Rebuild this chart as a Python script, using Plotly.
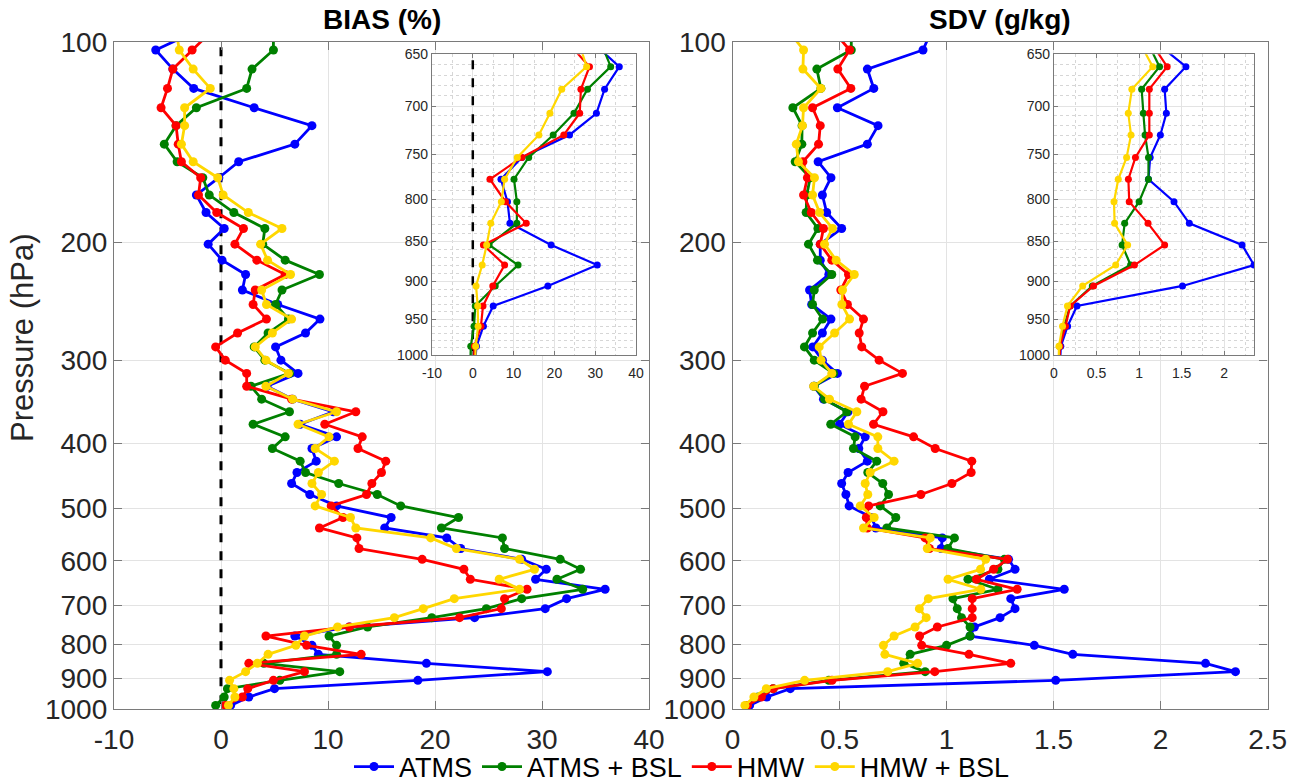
import math
import plotly.graph_objects as go

# ---------------- data ----------------
P = [96.2, 102.9, 109.9, 117.5, 125.6, 133.6, 142.4, 151.3, 159.9, 169.7, 180.3,
     190.5, 201.1, 212.5, 223.3, 235.6, 247.6, 260.4, 273.2, 286.7, 300.1,
     314.1, 328.3, 343.3, 358.6, 374.3, 391.0, 407.0, 425.2, 442.2, 459.3,
     477.0, 496.2, 516.5, 535.4, 554.1, 574.8, 596.6, 617.5, 639.2, 661.6,
     683.3, 707.3, 729.6, 753.5, 777.4, 802.8, 828.1, 854.2, 879.1, 905.8,
     932.2, 959.5, 987.6, 1015.0]

series_names = ["ATMS", "ATMS + BSL", "HMW", "HMW + BSL"]
series_colors = ["#0000FF", "#008000", "#FF0000", "#FFD700"]

bias_atms = [-2.2, -6.1, -4.5, -2.55, 3.1, 8.5, 6.9, 1.65, -0.2, -2.3, -1.4,
             0.3, -1.2, 0.1, 2.3, 2.0, 5.3, 9.25, 7.9, 5.1, 5.6,
             7.2, 4.3, 6.7, 10.5, 7.4, 10.8, 8.5, 8.9, 7.1, 6.6,
             8.3, 10.8, 15.9, 15.3, 21.1, 22.4, 28.1, 30.4, 29.4, 35.9,
             32.3, 30.3, 23.7, 12.0, 6.9, 8.5, 9.1, 19.2, 30.5, 18.4,
             5.0, 2.6, 0.9, 0.5]
bias_atms_bsl = [4.9, 4.9, 2.9, 2.4, -2.3, -4.2, -5.3, -4.1, -1.7, -1.1, 1.2,
                 4.1, 3.9, 6.0, 9.2, 5.7, 5.1, 6.3, 4.4, 3.1, 4.1,
                 6.4, 2.8, 3.8, 6.4, 3.0, 6.0, 4.8, 7.4, 7.9, 11.0,
                 14.6, 16.8, 22.2, 20.6, 26.3, 26.5, 31.7, 33.6, 31.4, 33.8,
                 28.1, 24.8, 19.7, 13.7, 10.1, 10.8, 10.8, 4.0, 11.1, 5.5,
                 0.6, 0.3, -0.5, -0.6]
bias_hmw = [-0.8, -2.7, -4.5, -5.0, -5.6, -4.2, -4.0, -3.7, -1.9, -2.1, -0.4,
            2.1, 1.3, 3.35, 6.0, 3.2, 3.0, 4.25, 1.55, -0.5, 0.4,
            2.4, 2.4, 6.6, 12.6, 9.7, 13.2, 12.8, 15.4, 15.0, 14.1,
            13.6, 10.3, 11.4, 9.2, 12.7, 12.9, 18.8, 22.7, 23.3, 28.6,
            26.5, 26.2, 22.3, 12.0, 4.2, 8.0, 13.1, 2.6, 7.8, 4.9,
            2.5, 2.0, 0.4, 0.3]
bias_hmw_bsl = [-4.2, -3.9, -2.6, -1.0, -3.4, -3.4, -3.7, -2.6, -0.3, 0.2, 2.55,
                5.7, 3.7, 4.35, 6.5, 3.8, 4.25, 6.6, 4.8, 3.2, 4.2,
                6.3, 4.2, 6.7, 10.8, 7.2, 10.1, 8.8, 10.6, 9.1, 8.5,
                9.4, 8.8, 12.1, 12.6, 19.6, 22.0, 27.9, 29.3, 26.0, 27.9,
                21.8, 18.9, 16.2, 10.9, 7.8, 7.0, 4.4, 3.4, 2.3, 0.8,
                1.2, 1.3, 0.7, 0.6]

sdv_atms = [0.93, 0.89, 0.63, 0.66, 0.49, 0.68, 0.63, 0.40, 0.46, 0.42, 0.44,
            0.51, 0.41, 0.41, 0.45, 0.36, 0.37, 0.46, 0.42, 0.375, 0.42,
            0.49, 0.38, 0.425, 0.54, 0.50, 0.62, 0.59, 0.63, 0.54, 0.51,
            0.53, 0.545, 0.65, 0.67, 0.98, 0.975, 1.29, 1.32, 1.20, 1.55,
            1.30, 1.32, 1.25, 1.13, 1.11, 1.41, 1.59, 2.21, 2.35, 1.51,
            0.27, 0.16, 0.08, 0.07]
sdv_atms_bsl = [0.555, 0.555, 0.394, 0.413, 0.282, 0.325, 0.324, 0.293, 0.363, 0.347, 0.344,
                0.399, 0.355, 0.397, 0.464, 0.382, 0.374, 0.421, 0.374, 0.336, 0.382,
                0.472, 0.382, 0.43, 0.534, 0.459, 0.573, 0.565, 0.674, 0.632, 0.702,
                0.729, 0.690, 0.763, 0.721, 1.037, 1.006, 1.27, 1.24, 1.10, 1.24,
                1.03, 1.05, 1.07, 1.11, 1.11, 1.0, 0.83, 0.80, 0.90, 0.45,
                0.19, 0.12, 0.065, 0.06]
sdv_hmw = [0.47, 0.547, 0.492, 0.553, 0.374, 0.410, 0.402, 0.329, 0.350, 0.332, 0.368,
           0.425, 0.410, 0.464, 0.542, 0.506, 0.537, 0.612, 0.592, 0.604, 0.685,
           0.794, 0.617, 0.601, 0.703, 0.659, 0.846, 0.947, 1.118, 1.115, 1.025,
           0.880, 0.636, 0.625, 0.63, 0.900, 0.920, 1.285, 1.22, 1.14, 1.33,
           1.12, 1.12, 1.12, 0.957, 0.874, 0.884, 1.105, 1.30, 0.945, 0.465,
           0.19, 0.135, 0.07, 0.065]
sdv_hmw_bsl = [0.26, 0.332, 0.329, 0.413, 0.332, 0.327, 0.298, 0.308, 0.383, 0.374, 0.407,
               0.467, 0.430, 0.484, 0.569, 0.514, 0.511, 0.547, 0.477, 0.405, 0.414,
               0.464, 0.379, 0.453, 0.581, 0.542, 0.679, 0.679, 0.755, 0.643, 0.620,
               0.632, 0.597, 0.662, 0.612, 0.924, 0.910, 1.183, 1.159, 1.007, 1.16,
               0.915, 0.873, 0.905, 0.853, 0.755, 0.705, 0.712, 0.865, 0.725, 0.337,
               0.158, 0.10, 0.058, 0.055]

bias_series = [bias_atms, bias_atms_bsl, bias_hmw, bias_hmw_bsl]
sdv_series = [sdv_atms, sdv_atms_bsl, sdv_hmw, sdv_hmw_bsl]

main_yticks = [100, 200, 300, 400, 500, 600, 700, 800, 900, 1000]
inset_yticks = [650, 700, 750, 800, 850, 900, 950, 1000]
inset_yminor = [v for v in range(660, 1000, 10) if v % 50 != 0]
bias_xticks = [-10, 0, 10, 20, 30, 40]
bias_xticklabels = ["-10", "0", "10", "20", "30", "40"]
sdv_xticks = [0, 0.5, 1, 1.5, 2, 2.5]
sdv_xticklabels = ["0", "0.5", "1", "1.5", "2", "2.5"]
inset_sdv_xticks = [0, 0.5, 1, 1.5, 2]
inset_sdv_xticklabels = ["0", "0.5", "1", "1.5", "2"]

# ---------------- figure ----------------
# The figure is a little taller than the 783 px window so that the bottom legend
# box fits without Plotly shrinking the plot area; the window crops the extra.
W, H = 1293, 800
def fx(x): return x / W
def fy(y): return 1 - y / H

FONT = "Liberation Sans, Arial, sans-serif"
TXT = "#262626"
AXC = "#7a7a7a"
GRID = "#e3e3e3"
MINOR = "#d6d6d6"
MAIN_TICK = 28
INSET_TICK = 14

fig = go.Figure()

# dashed zero lines
for xa, ya, w in [("x", "y", 3), ("x3", "y3", 2.5)]:
    fig.add_trace(go.Scatter(x=[0, 0], y=[90, 1100], mode="lines",
                             line=dict(color="black", width=w, dash="dash"),
                             xaxis=xa, yaxis=ya, showlegend=False, hoverinfo="skip"))

for (xa, ya, data, lw, ms) in [("x", "y", bias_series, 2.8, 9),
                                ("x2", "y2", sdv_series, 2.8, 9),
                                ("x3", "y3", bias_series, 2.2, 7),
                                ("x4", "y4", sdv_series, 2.2, 7)]:
    for name, col, vals in zip(series_names, series_colors, data):
        fig.add_trace(go.Scatter(
            x=vals, y=P, mode="lines+markers", name=name,
            line=dict(color=col, width=lw), marker=dict(color=col, size=ms),
            xaxis=xa, yaxis=ya, showlegend=(xa == "x")))

def xax(domain, rng, tickvals, ticktext, size=MAIN_TICK, ticklen=8, standoff=5,
        minor=None, anchor=None):
    d = dict(domain=domain, range=rng, tickmode="array", tickvals=tickvals, ticktext=ticktext,
             showgrid=True, gridcolor=GRID, gridwidth=1, zeroline=False,
             showline=True, linecolor=AXC, linewidth=1.3, mirror="ticks",
             ticks="inside", ticklen=ticklen, tickcolor=AXC, automargin=False,
             ticklabelstandoff=standoff,
             tickfont=dict(family=FONT, size=size, color=TXT), anchor=anchor)
    if minor is not None:
        d["minor"] = minor
    return d

def yax_main(anchor):
    return dict(type="log", range=[3, 2], tickmode="array", tickvals=main_yticks,
                ticktext=[str(v) for v in main_yticks],
                showgrid=True, gridcolor=GRID, gridwidth=1, zeroline=False,
                showline=True, linecolor=AXC, linewidth=1.3, mirror="ticks",
                ticks="inside", ticklen=8, tickcolor=AXC, automargin=False,
                tickfont=dict(family=FONT, size=MAIN_TICK, color=TXT),
                domain=[fy(709), fy(41.7)], anchor=anchor)

def yax_inset(anchor):
    return dict(type="log", range=[3, math.log10(650)], tickmode="array",
                tickvals=inset_yticks, ticktext=[str(v) for v in inset_yticks],
                showgrid=True, gridcolor=GRID, gridwidth=1, zeroline=False,
                showline=True, linecolor=AXC, linewidth=1.2, mirror="ticks",
                ticks="inside", ticklen=4, tickcolor=AXC, automargin=False,
                tickfont=dict(family=FONT, size=INSET_TICK, color=TXT),
                minor=dict(tickmode="array", tickvals=inset_yminor, showgrid=True,
                           gridcolor=MINOR, griddash="dot", gridwidth=1, ticks=""),
                domain=[fy(355), fy(54.3)], anchor=anchor)

fig.update_layout(
    width=W, height=H, autosize=False, margin=dict(l=0, r=0, t=0, b=0, pad=0),
    paper_bgcolor="white", plot_bgcolor="white",
    font=dict(family=FONT, color=TXT),
    xaxis=xax([fx(114), fx(649)], [-10, 40], bias_xticks, bias_xticklabels, anchor="y"),
    yaxis=yax_main("x"),
    xaxis2=xax([fx(732.5), fx(1267.6)], [0, 2.5], sdv_xticks, sdv_xticklabels, anchor="y2"),
    yaxis2=yax_main("x2"),
    xaxis3=xax([fx(432), fx(636)], [-10, 40], bias_xticks, bias_xticklabels,
               size=INSET_TICK, ticklen=4, standoff=5,
               minor=dict(dtick=5, showgrid=True, gridcolor=MINOR, griddash="dot", ticks=""),
               anchor="y3"),
    yaxis3=yax_inset("x3"),
    xaxis4=xax([fx(1054), fx(1254)], [0, 2.35], inset_sdv_xticks, inset_sdv_xticklabels,
               size=INSET_TICK, ticklen=4, standoff=5,
               minor=dict(dtick=0.25, showgrid=True, gridcolor=MINOR, griddash="dot", ticks=""),
               anchor="y4"),
    yaxis4=yax_inset("x4"),
    legend=dict(orientation="h", x=fx(682), xanchor="center", y=fy(767), yanchor="middle",
                font=dict(family=FONT, size=27, color="black"), bgcolor="rgba(0,0,0,0)",
                itemwidth=40, tracegroupgap=0),
    showlegend=True,
)

# white backgrounds for insets (drawn in inset subplot layer, covering main plot)
fig.add_shape(type="rect", xref="x3", yref="y3", x0=-10, x1=40, y0=650, y1=1000,
              fillcolor="white", line=dict(width=0), layer="below")
fig.add_shape(type="rect", xref="x4", yref="y4", x0=0, x1=2.35, y0=650, y1=1000,
              fillcolor="white", line=dict(width=0), layer="below")

# titles and y label
fig.add_annotation(text="<b>BIAS (%)</b>", x=fx(381.5), y=fy(19), xref="paper", yref="paper",
                   xanchor="center", yanchor="middle",
                   showarrow=False, font=dict(family=FONT, size=28, color="black"))
fig.add_annotation(text="<b>SDV (g/kg)</b>", x=fx(1000), y=fy(19), xref="paper", yref="paper",
                   xanchor="center", yanchor="middle",
                   showarrow=False, font=dict(family=FONT, size=28, color="black"))
fig.add_annotation(text="Pressure (hPa)", x=fx(22), y=fy(338), xref="paper", yref="paper",
                   xanchor="center", yanchor="middle",
                   showarrow=False, textangle=-90, font=dict(family=FONT, size=31, color=TXT))

fig.write_html("out.html", config={"displayModeBar": False},
               post_script="document.body.style.margin='0px';document.body.style.padding='0px';"
                           "document.body.style.overflow='hidden';")
